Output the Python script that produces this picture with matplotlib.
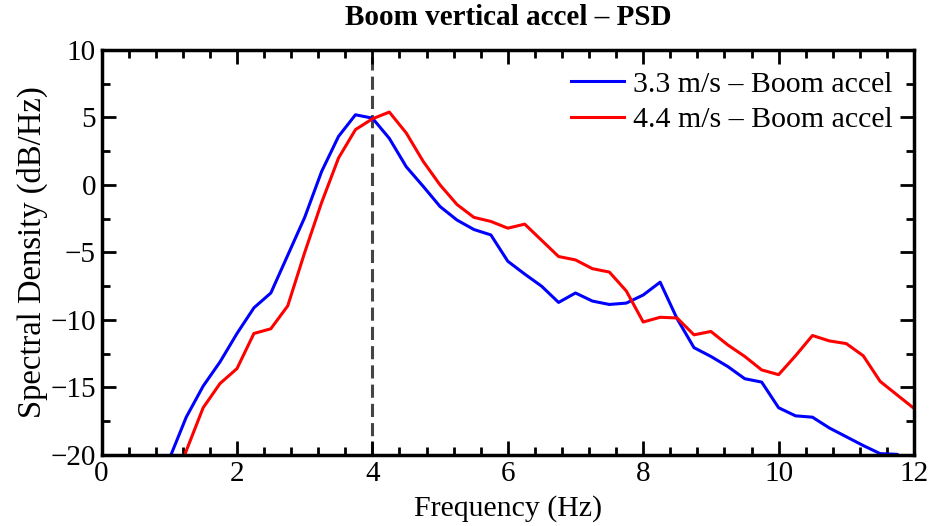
import matplotlib
matplotlib.use("Agg")
import matplotlib.pyplot as plt
from matplotlib.ticker import MultipleLocator

plt.rcParams['font.family'] = ['Liberation Serif', 'DejaVu Serif']

# frequency grid (Hz)
freq = [1.0, 1.25, 1.5, 1.75, 2.0, 2.25, 2.5, 2.75, 3.0, 3.25, 3.5, 3.75,
        4.0, 4.25, 4.5, 4.75, 5.0, 5.25, 5.5, 5.75, 6.0, 6.25, 6.5, 6.75,
        7.0, 7.25, 7.5, 7.75, 8.0, 8.25, 8.5, 8.75, 9.0, 9.25, 9.5, 9.75,
        10.0, 10.25, 10.5, 10.75, 11.0, 11.25, 11.5, 11.75, 12.0]

# PSD (dB/Hz)
psd_33 = [-20.3, -17.2, -14.9, -13.1, -11.0, -9.1, -8.0, -5.2, -2.4, 1.0, 3.6, 5.2,
          4.95, 3.45, 1.35, -0.1, -1.6, -2.6, -3.3, -3.7, -5.65, -6.6, -7.5, -8.7,
          -8.0, -8.6, -8.85, -8.75, -8.15, -7.2, -9.9, -12.05, -12.7, -13.45, -14.35, -14.6,
          -16.5, -17.1, -17.2, -18.0, -18.65, -19.3, -19.9, -19.95, -20.8]
psd_44 = [-23.0, -19.7, -16.5, -14.7, -13.6, -11.0, -10.65, -8.95, -5.0, -1.3, 2.0, 4.1,
          4.9, 5.4, 3.85, 1.75, 0.0, -1.45, -2.4, -2.7, -3.2, -2.9, -4.1, -5.3,
          -5.55, -6.2, -6.45, -7.85, -10.15, -9.8, -9.85, -11.1, -10.85, -11.85, -12.7, -13.7,
          -14.05, -12.65, -11.15, -11.55, -11.75, -12.65, -14.55, -15.55, -16.55]

labels = ['3.3 m/s \u2013 Boom accel', '4.4 m/s \u2013 Boom accel']
f_mark = 4.0

fig = plt.figure(figsize=(9.32, 5.26), dpi=100)
ax = fig.add_axes([0.109, 0.135, 0.8717, 0.770])

ax.plot(freq, psd_33, color='#0000ff', lw=2.2, label=labels[0])
ax.plot(freq, psd_44, color='#ff0000', lw=2.2, label=labels[1])
ax.axvline(f_mark, color='#444444', lw=2.2, dashes=(4.3, 2.0), zorder=1)

ax.set_xlim(0, 12)
ax.set_ylim(-20, 10)
ax.xaxis.set_major_locator(MultipleLocator(2))
ax.xaxis.set_minor_locator(MultipleLocator(0.4))
ax.yaxis.set_major_locator(MultipleLocator(5))
ax.yaxis.set_minor_locator(MultipleLocator(2.5))
ax.tick_params(which='both', direction='in', top=True, right=True, width=2.0,
               labelsize=21)
ax.tick_params(which='major', length=10)
ax.tick_params(which='minor', length=5.5)
ax.tick_params(axis='x', pad=4)
ax.tick_params(axis='y', pad=4)
for s in ax.spines.values():
    s.set_linewidth(2.5)

ax.set_xlabel('Frequency (Hz)', fontsize=21.5, labelpad=6)
ax.set_ylabel('Spectral Density (dB/Hz)', fontsize=23.5, labelpad=2)
ax.set_title('Boom vertical accel \u2013 PSD', fontsize=21, fontweight='bold', pad=18)

ax.legend(loc='upper right', frameon=False, fontsize=21.5, handlelength=1.8,
          handletextpad=0.3, labelspacing=0.28, borderaxespad=0.3, borderpad=0.4)

fig.savefig('out.png', dpi=100)
